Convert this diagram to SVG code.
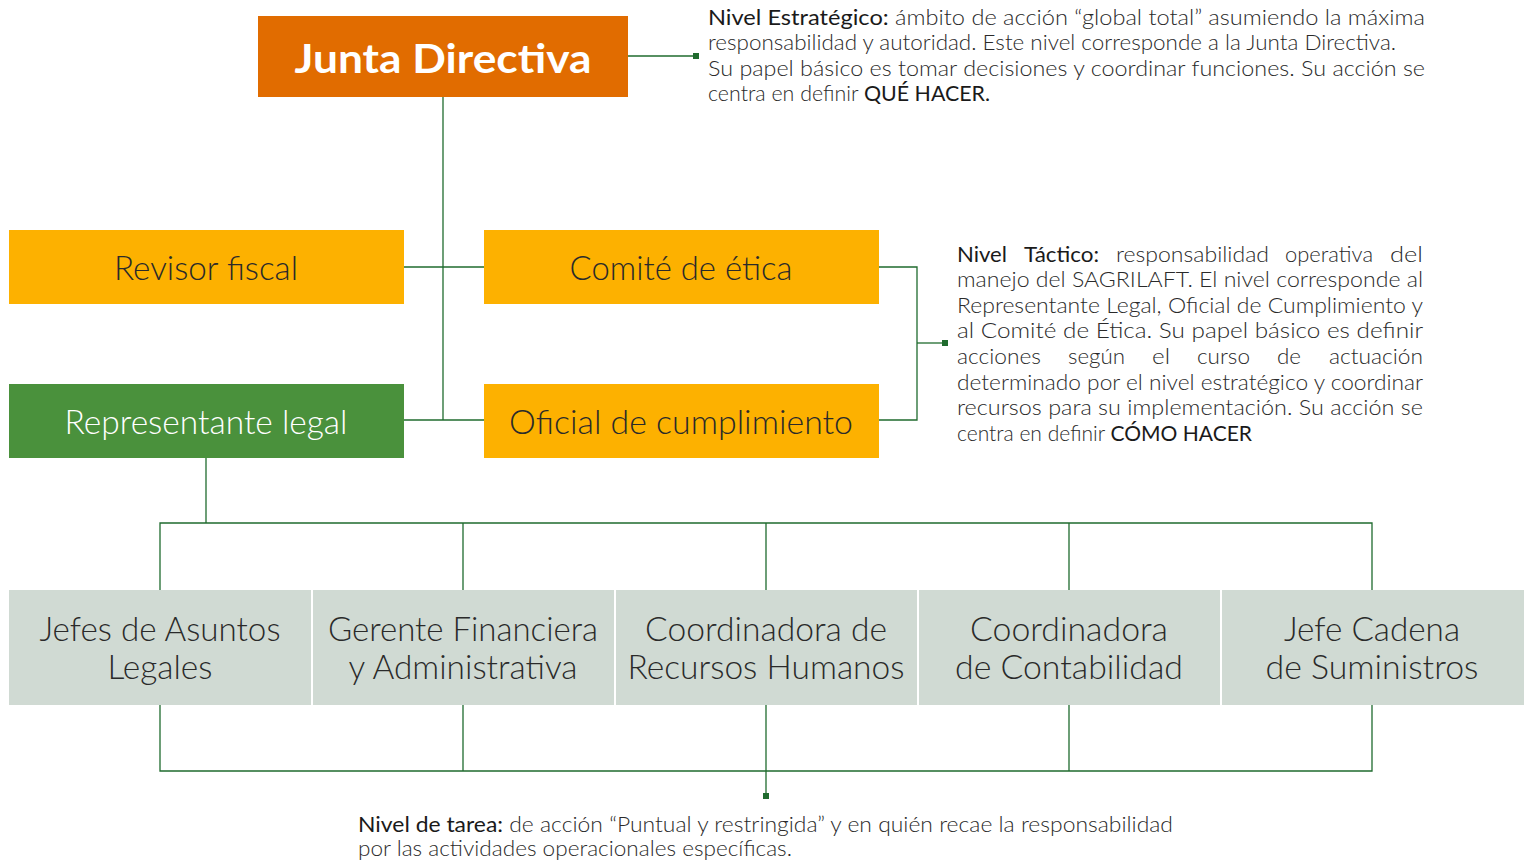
<svg xmlns="http://www.w3.org/2000/svg" width="1530" height="864" viewBox="0 0 1530 864">
<defs>
<marker id="sq" viewBox="0 0 6 6" refX="3" refY="3" markerWidth="6" markerHeight="6" markerUnits="userSpaceOnUse"><rect x="0" y="0" width="6" height="6" fill="#1F6B2E"/></marker>
<style>
.ln{fill:none;stroke:#1F6B2E;stroke-width:1.3}
.nt{font-family:Lato,"Liberation Sans",sans-serif;font-weight:300;font-size:33px;fill:#2a2a2a;text-anchor:middle}
.w{fill:#ffffff}
.p{font-family:Lato,"Liberation Sans",sans-serif;font-weight:300;font-size:21px;fill:#2a2a2a}
.b{font-weight:400;fill:#1a1a1a}
.gray{fill:#D0DAD3}
.yel{fill:#FDB100}
</style>
</defs>
<rect width="1530" height="864" fill="#ffffff"/>
<g id="connectors">
<path class="ln" d="M628,56 H696" marker-end="url(#sq)"/>
<path class="ln" d="M443,97 V420"/>
<path class="ln" d="M404,267 H484"/>
<path class="ln" d="M404,420 H484"/>
<path class="ln" d="M879,267 H917 V420 H879"/>
<path class="ln" d="M917,343 H945" marker-end="url(#sq)"/>
<path class="ln" d="M206,458 V523"/>
<path class="ln" d="M160,590 V523 H1372 V590 M463,523 V590 M766,523 V590 M1069,523 V590"/>
<path class="ln" d="M160,705 V771 H1372 V705 M463,705 V771 M1069,705 V771"/>
<path class="ln" d="M766,705 V796" marker-end="url(#sq)"/>
</g>
<g id="junta">
<rect x="258" y="16" width="370" height="81" fill="#E16C00"/>
<text x="443" y="73" font-family="Lato,'Liberation Sans',sans-serif" font-weight="700" font-size="41" fill="#ffffff" text-anchor="middle" textLength="297" lengthAdjust="spacingAndGlyphs">Junta Directiva</text>
</g>
<g id="revisor">
<rect class="yel" x="9" y="230" width="395" height="74"/>
<text class="nt" x="206" y="280" textLength="184" lengthAdjust="spacingAndGlyphs">Revisor fiscal</text>
</g>
<g id="comite">
<rect class="yel" x="484" y="230" width="395" height="74"/>
<text class="nt" x="681" y="280" textLength="223" lengthAdjust="spacingAndGlyphs">Comité de ética</text>
</g>
<g id="representante">
<rect x="9" y="384" width="395" height="74" fill="#4A913C"/>
<text class="nt w" x="206" y="434" textLength="283" lengthAdjust="spacingAndGlyphs">Representante legal</text>
</g>
<g id="oficial">
<rect class="yel" x="484" y="384" width="395" height="74"/>
<text class="nt" x="681" y="434" textLength="344" lengthAdjust="spacingAndGlyphs">Oficial de cumplimiento</text>
</g>
<g id="jefes-legales">
<rect class="gray" x="9" y="590" width="302" height="115"/>
<text class="nt" x="160" y="641" textLength="241" lengthAdjust="spacingAndGlyphs">Jefes de Asuntos</text>
<text class="nt" x="160" y="679" textLength="105" lengthAdjust="spacingAndGlyphs">Legales</text>
</g>
<g id="gerente">
<rect class="gray" x="313" y="590" width="301" height="115"/>
<text class="nt" x="463" y="641" textLength="270" lengthAdjust="spacingAndGlyphs">Gerente Financiera</text>
<text class="nt" x="463" y="679" textLength="229" lengthAdjust="spacingAndGlyphs">y Administrativa</text>
</g>
<g id="rrhh">
<rect class="gray" x="616" y="590" width="301" height="115"/>
<text class="nt" x="766" y="641" textLength="242" lengthAdjust="spacingAndGlyphs">Coordinadora de</text>
<text class="nt" x="766" y="679" textLength="277" lengthAdjust="spacingAndGlyphs">Recursos Humanos</text>
</g>
<g id="contabilidad">
<rect class="gray" x="919" y="590" width="301" height="115"/>
<text class="nt" x="1069" y="641" textLength="198" lengthAdjust="spacingAndGlyphs">Coordinadora</text>
<text class="nt" x="1069" y="679" textLength="228" lengthAdjust="spacingAndGlyphs">de Contabilidad</text>
</g>
<g id="suministros">
<rect class="gray" x="1222" y="590" width="302" height="115"/>
<text class="nt" x="1372" y="641" textLength="176" lengthAdjust="spacingAndGlyphs">Jefe Cadena</text>
<text class="nt" x="1372" y="679" textLength="213" lengthAdjust="spacingAndGlyphs">de Suministros</text>
</g>
<g id="nivel-estrategico">
<text class="p" x="708" y="25" textLength="717" lengthAdjust="spacingAndGlyphs"><tspan class="b">Nivel Estratégico:</tspan> ámbito de acción “global total” asumiendo la máxima</text>
<text class="p" x="708" y="50" textLength="688" lengthAdjust="spacingAndGlyphs">responsabilidad y autoridad. Este nivel corresponde a la Junta Directiva.</text>
<text class="p" x="708" y="76" textLength="717" lengthAdjust="spacingAndGlyphs">Su papel básico es tomar decisiones y coordinar funciones. Su acción se</text>
<text class="p" x="708" y="101" textLength="282" lengthAdjust="spacingAndGlyphs">centra en definir <tspan class="b">QUÉ HACER.</tspan></text>
</g>
<g id="nivel-tactico">
<text class="p b" x="957" y="262" textLength="50" lengthAdjust="spacingAndGlyphs">Nivel</text>
<text class="p b" x="1024" y="262" textLength="75" lengthAdjust="spacingAndGlyphs">Táctico:</text>
<text class="p" x="1116" y="262" textLength="153" lengthAdjust="spacingAndGlyphs">responsabilidad</text>
<text class="p" x="1285" y="262" textLength="88" lengthAdjust="spacingAndGlyphs">operativa</text>
<text class="p" x="1390" y="262" textLength="33" lengthAdjust="spacingAndGlyphs">del</text>
<text class="p" x="957" y="287" textLength="466" lengthAdjust="spacingAndGlyphs">manejo del SAGRILAFT. El nivel corresponde al</text>
<text class="p" x="957" y="313" textLength="466" lengthAdjust="spacingAndGlyphs">Representante Legal, Oficial de Cumplimiento y</text>
<text class="p" x="957" y="338" textLength="466" lengthAdjust="spacingAndGlyphs">al Comité de Ética. Su papel básico es definir</text>
<text class="p" x="957" y="364" textLength="84" lengthAdjust="spacingAndGlyphs">acciones</text>
<text class="p" x="1068" y="364" textLength="57" lengthAdjust="spacingAndGlyphs">según</text>
<text class="p" x="1152" y="364" textLength="18" lengthAdjust="spacingAndGlyphs">el</text>
<text class="p" x="1197" y="364" textLength="53" lengthAdjust="spacingAndGlyphs">curso</text>
<text class="p" x="1277" y="364" textLength="24" lengthAdjust="spacingAndGlyphs">de</text>
<text class="p" x="1329" y="364" textLength="94" lengthAdjust="spacingAndGlyphs">actuación</text>
<text class="p" x="957" y="390" textLength="466" lengthAdjust="spacingAndGlyphs">determinado por el nivel estratégico y coordinar</text>
<text class="p" x="957" y="415" textLength="466" lengthAdjust="spacingAndGlyphs">recursos para su implementación. Su acción se</text>
<text class="p" x="957" y="441" textLength="295" lengthAdjust="spacingAndGlyphs">centra en definir <tspan class="b">CÓMO HACER</tspan></text>
</g>
<g id="nivel-tarea">
<text class="p" x="358" y="832" textLength="815" lengthAdjust="spacingAndGlyphs"><tspan class="b">Nivel de tarea:</tspan> de acción “Puntual y restringida” y en quién recae la responsabilidad</text>
<text class="p" x="358" y="856" textLength="434" lengthAdjust="spacingAndGlyphs">por las actividades operacionales específicas.</text>
</g>
</svg>
